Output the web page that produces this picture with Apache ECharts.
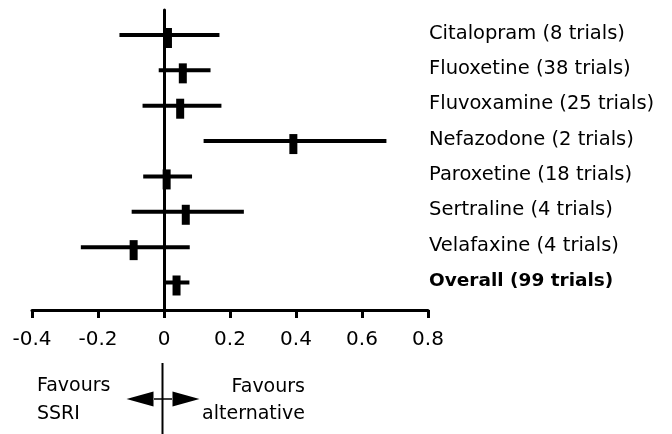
<!DOCTYPE html>
<html><head><meta charset="utf-8">
<script src="https://cdn.jsdelivr.net/npm/echarts@6/dist/echarts.min.js"></script>
<style>html,body{margin:0;padding:0;background:#fff}#c{width:672px;height:434px}</style>
</head><body><div id="c"></div>
<script>
const categories = ['Citalopram (8 trials)', 'Fluoxetine (38 trials)', 'Fluvoxamine (25 trials)', 'Nefazodone (2 trials)', 'Paroxetine (18 trials)', 'Sertraline (4 trials)', 'Velafaxine (4 trials)', 'Overall (99 trials)'];
const estimates = [0.012, 0.057, 0.049, 0.392, 0.008, 0.066, -0.092, 0.038];
const lower = [-0.135, -0.016, -0.065, 0.120, -0.063, -0.098, -0.252, 0.000];
const upper = [0.168, 0.141, 0.174, 0.674, 0.085, 0.242, 0.078, 0.077];
const tickLabels = ['-0.4', '-0.2', '0', '0.2', '0.4', '0.6', '0.8'];
const boldCategory = 'Overall (99 trials)';
const leftNote = ['Favours', 'SSRI'];
const rightNote = ['Favours', 'alternative'];

const FONT = 'DejaVu Sans';
const chart = echarts.init(document.getElementById('c'), null, {renderer: 'canvas'});

chart.setOption({
  animation: false,
  backgroundColor: '#fff',
  grid: {left: 32, right: 244, top: 10, bottom: 124, containLabel: false},
  xAxis: {
    type: 'value', min: -0.4, max: 0.8, interval: 0.2,
    axisLine: {onZero: false, lineStyle: {color: '#000', width: 3}},
    axisTick: {show: true, length: 8, lineStyle: {color: '#000', width: 3}},
    splitLine: {show: false},
    axisLabel: {
      margin: 20, color: '#000', fontSize: 20, fontFamily: FONT,
      formatter: v => tickLabels[Math.round((v + 0.4) / 0.2)]
    }
  },
  yAxis: {
    type: 'value', inverse: true, min: 0.293, max: 8.778,
    axisLine: {show: true, onZero: true, lineStyle: {color: '#000', width: 3}},
    axisTick: {show: false}, axisLabel: {show: false}, splitLine: {show: false}
  },
  series: [
    {
      type: 'custom',
      silent: true,
      data: categories.map((c, i) => [lower[i], upper[i], i + 1]),
      encode: {x: [0, 1], y: 2},
      renderItem: function (params, api) {
        const a = api.coord([api.value(0), api.value(2)]);
        const b = api.coord([api.value(1), api.value(2)]);
        return {type: 'line', shape: {x1: a[0], y1: a[1], x2: b[0], y2: b[1]},
          style: {stroke: '#000', lineWidth: 4}};
      },
      z: 3
    },
    {
      type: 'scatter',
      silent: true,
      symbol: 'rect', symbolSize: [8, 20], symbolOffset: [0, 3],
      itemStyle: {color: '#000', opacity: 1},
      data: estimates.map((e, i) => [e, i + 1]),
      z: 4
    },
    {
      type: 'scatter',
      silent: true,
      symbolSize: 0,
      itemStyle: {color: 'rgba(0,0,0,0)'},
      label: {
        show: true, position: 'right', distance: 1, offset: [0, -1.5],
        formatter: '{b}', color: '#000', opacity: 1, fontSize: 19.5, fontFamily: FONT
      },
      data: categories.map((c, i) => ({
        name: c, value: [0.8, i + 1],
        label: c === boldCategory ? {fontWeight: 'bold', fontSize: 18.5} : undefined
      })),
      z: 5
    }
  ]
});

const x0 = chart.convertToPixel({xAxisIndex: 0}, 0);
const ay = 399;
const noteFont = '19px "DejaVu Sans"';
chart.setOption({
  graphic: [
    {type: 'line', shape: {x1: x0 - 1.5, y1: 363, x2: x0 - 1.5, y2: 434}, style: {stroke: '#000', lineWidth: 2}},
    {type: 'line', shape: {x1: x0 - 10, y1: ay, x2: x0 + 8, y2: ay}, style: {stroke: '#000', lineWidth: 1.5}},
    {type: 'polygon', shape: {points: [[x0 - 37.5, ay], [x0 - 10.5, ay - 7.5], [x0 - 10.5, ay + 7.5]]}, style: {fill: '#000'}},
    {type: 'polygon', shape: {points: [[x0 + 35.5, ay], [x0 + 8.5, ay - 7.5], [x0 + 8.5, ay + 7.5]]}, style: {fill: '#000'}},
    {type: 'text', x: 37, y: 386.5, style: {text: leftNote[0], font: noteFont, fill: '#000', align: 'left', verticalAlign: 'middle'}},
    {type: 'text', x: 37, y: 414, style: {text: leftNote[1], font: noteFont, fill: '#000', align: 'left', verticalAlign: 'middle'}},
    {type: 'text', x: 305, y: 387, style: {text: rightNote[0], font: noteFont, fill: '#000', align: 'right', verticalAlign: 'middle'}},
    {type: 'text', x: 305, y: 414, style: {text: rightNote[1], font: noteFont, fill: '#000', align: 'right', verticalAlign: 'middle'}}
  ]
});
</script>
</body></html>
